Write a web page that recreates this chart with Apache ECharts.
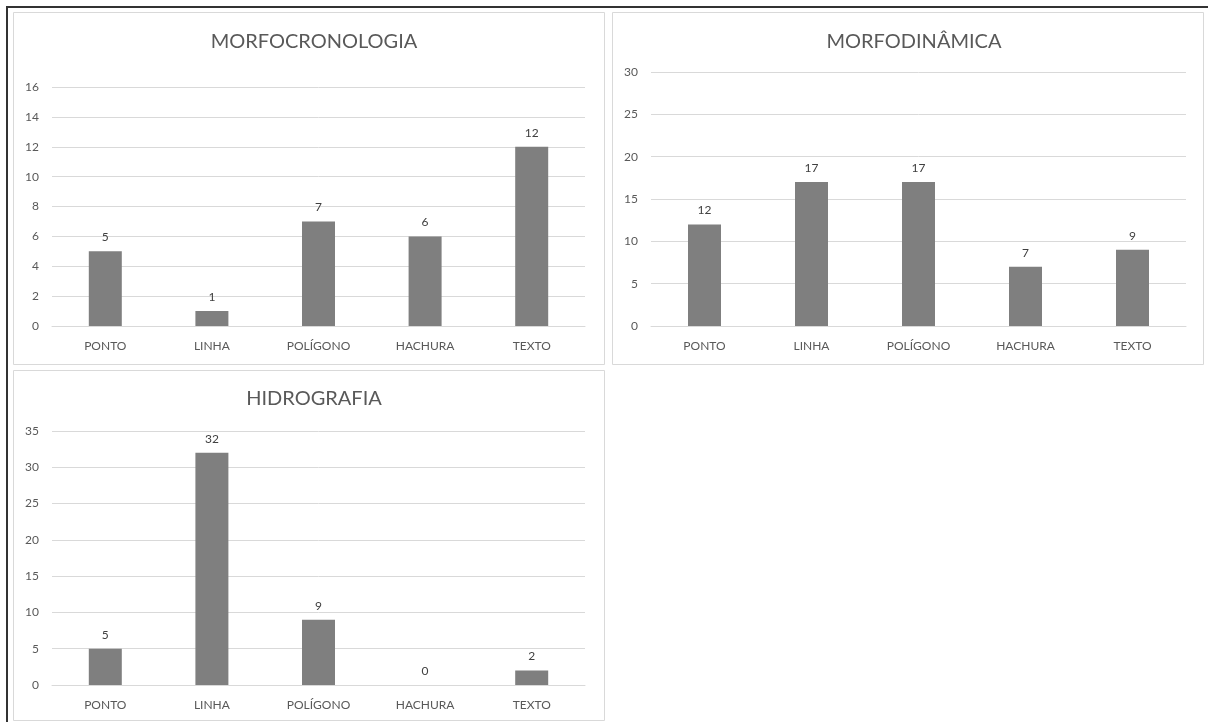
<!DOCTYPE html>
<html>
<head>
<meta charset="utf-8">
<script src="https://cdn.jsdelivr.net/npm/echarts@6/dist/echarts.min.js"></script>
<style>
html,body{margin:0;padding:0;background:#fff;}
#c{width:1208px;height:722px;}
</style>
</head>
<body>
<div id="c"></div>
<script>
const categories = ['PONTO', 'LINHA', 'POLÍGONO', 'HACHURA', 'TEXTO'];
const titles = ['MORFOCRONOLOGIA', 'MORFODINÂMICA', 'HIDROGRAFIA'];
const morfocronologia = [5, 1, 7, 6, 12];
const morfodinamica = [12, 17, 17, 7, 9];
const hidrografia = [5, 32, 9, 0, 2];
const yMax = [16, 30, 35];
const yInterval = [2, 5, 5];

const FONT = 'Lato';
const seriesData = [morfocronologia, morfodinamica, hidrografia];
const grids = [
  {left: 52, right: 623, top: 87, bottom: 396},
  {left: 651, right: 22, top: 72, bottom: 396},
  {left: 52, right: 623, top: 431, bottom: 37}
];
const titlePos = [{x: 309, y: 27}, {x: 909, y: 27}, {x: 309, y: 384}];

const chart = echarts.init(document.getElementById('c'));
const option = {
  backgroundColor: '#fff',
  animation: false,
  title: titles.map((t, i) => ({
    text: t, left: titlePos[i].x, top: titlePos[i].y, textAlign: 'center',
    textStyle: {fontFamily: FONT, fontSize: 20, fontWeight: 'normal', color: '#595959'}
  })),
  grid: grids,
  xAxis: grids.map((g, i) => ({
    type: 'category', gridIndex: i, data: categories,
    axisLine: {lineStyle: {color: '#d9d9d9', width: 1}},
    axisTick: {show: false},
    axisLabel: {fontFamily: FONT, fontSize: 12, color: '#595959', margin: 14}
  })),
  yAxis: grids.map((g, i) => ({
    type: 'value', gridIndex: i, min: 0, max: yMax[i], interval: yInterval[i],
    axisLine: {show: false}, axisTick: {show: false},
    axisLabel: {fontFamily: FONT, fontSize: 12, color: '#595959', margin: 13},
    splitLine: {lineStyle: {color: '#d9d9d9', width: 1}}
  })),
  series: seriesData.map((d, i) => ({
    type: 'bar', xAxisIndex: i, yAxisIndex: i, data: d, barWidth: 33,
    itemStyle: {color: '#7f7f7f'},
    label: {show: true, position: 'top', distance: 8, fontFamily: FONT, fontSize: 12, color: '#404040'}
  })),
  graphic: [
    {type: 'rect', shape: {x: 13.5, y: 12.5, width: 591, height: 352}, style: {fill: 'none', stroke: '#d9d9d9', lineWidth: 1}, z: -1},
    {type: 'rect', shape: {x: 612.5, y: 12.5, width: 591, height: 352}, style: {fill: 'none', stroke: '#d9d9d9', lineWidth: 1}, z: -1},
    {type: 'rect', shape: {x: 13.5, y: 370.5, width: 591, height: 350}, style: {fill: 'none', stroke: '#d9d9d9', lineWidth: 1}, z: -1},
    {type: 'line', shape: {x1: 6, y1: 7, x2: 1208, y2: 7}, style: {stroke: '#333', lineWidth: 2}},
    {type: 'line', shape: {x1: 7, y1: 6, x2: 7, y2: 722}, style: {stroke: '#333', lineWidth: 2}}
  ]
};
chart.setOption(option);
</script>
</body>
</html>
